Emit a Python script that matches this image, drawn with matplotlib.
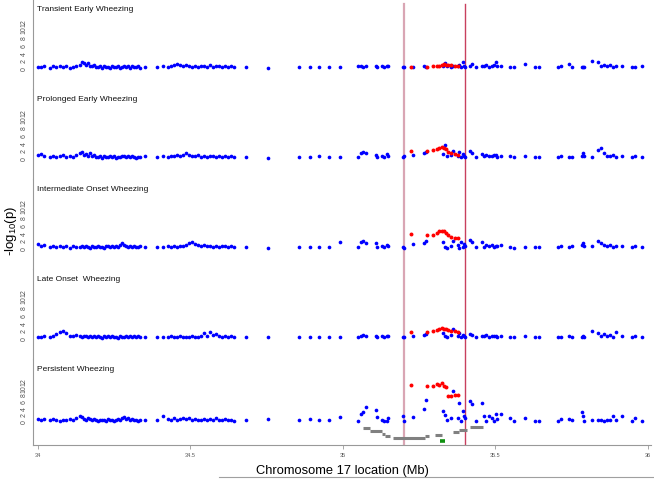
import matplotlib
matplotlib.use('Agg')
import matplotlib.pyplot as plt
from matplotlib.lines import Line2D

plt.rcParams['font.family'] = ['Liberation Sans', 'DejaVu Sans']

titles = ['Transient Early Wheezing', 'Prolonged Early Wheezing',
          'Intermediate Onset Wheezing', 'Late Onset  Wheezing',
          'Persistent Wheezing']

# SNP positions (Mb) outside the associated block
snp_mb = [
    34.001, 34.011, 34.021, 34.040, 34.050, 34.060, 34.073, 34.083, 34.093, 34.106,
    34.116, 34.125, 34.139, 34.145, 34.152, 34.158, 34.165, 34.171, 34.178, 34.184,
    34.191, 34.198, 34.204, 34.211, 34.217, 34.224, 34.230, 34.237, 34.243, 34.250,
    34.257, 34.263, 34.270, 34.276, 34.283, 34.289, 34.296, 34.302, 34.309, 34.316,
    34.322, 34.329, 34.335, 34.352,
    34.391, 34.411, 34.427, 34.437, 34.447, 34.456, 34.466, 34.476, 34.486, 34.496,
    34.505, 34.515, 34.525, 34.535, 34.545, 34.555, 34.564, 34.574, 34.584, 34.594,
    34.604, 34.614, 34.623, 34.633, 34.643,
    34.683, 34.755, 34.856, 34.892, 34.922, 34.954, 34.991,
    35.049, 35.059, 35.066, 35.075, 35.108, 35.111, 35.128, 35.135, 35.144, 35.147,
    35.197, 35.200, 35.230, 35.266, 35.272, 35.328, 35.336, 35.341, 35.354, 35.361,
    35.377, 35.380, 35.386, 35.393, 35.396, 35.399,
    35.416, 35.423, 35.436, 35.456, 35.462, 35.469, 35.478, 35.488, 35.495, 35.501,
    35.505, 35.518, 35.547, 35.561, 35.597, 35.630, 35.643, 35.705, 35.715, 35.742,
    35.751, 35.784, 35.787, 35.790, 35.817, 35.836, 35.846, 35.856, 35.866, 35.876,
    35.886, 35.895, 35.915, 35.948, 35.958, 35.981,
]

transient_p = [
    0.3, 0.2, 0.4, 0.1, 0.5, 0.3, 0.6, 0.2, 0.4, 0.1,
    0.3, 0.5, 0.8, 1.5, 1.2, 0.9, 1.3, 0.6, 0.4, 0.7,
    0.3, 0.2, 0.5, 0.1, 0.4, 0.2, 0.3, 0.1, 0.4, 0.2,
    0.3, 0.5, 0.1, 0.3, 0.6, 0.2, 0.4, 0.1, 0.5, 0.3,
    0.2, 0.4, 0.1, 0.2,
    0.2, 0.4, 0.3, 0.5, 0.7, 1.0, 0.8, 0.6, 0.9, 0.5,
    0.3, 0.6, 0.2, 0.4, 0.5, 0.3, 0.7, 0.2, 0.6, 0.4,
    0.3, 0.5, 0.2, 0.4, 0.3,
    0.3, 0.1, 0.2, 0.3, 0.2, 0.3, 0.2,
    0.4, 0.6, 0.3, 0.5, 0.4, 0.2, 0.5, 0.3, 0.6, 0.4,
    0.2, 0.3, 0.2, 0.4, 0.3, 0.6, 1.3, 0.5, 0.3, 0.6,
    0.4, 0.8, 0.3, 1.6, 0.5, 0.2,
    0.5, 1.0, 0.3, 0.6, 0.4, 0.8, 0.3, 0.5, 0.7, 1.5,
    0.4, 0.6, 0.3, 0.2, 1.0, 0.2, 0.3, 0.2, 0.4, 1.0,
    0.3, 0.2, 0.3, 0.2, 1.8, 1.5, 0.6, 0.9, 0.4, 0.7,
    0.3, 0.5, 0.6, 0.3, 0.2, 0.4,
]

prolonged_p = [
    0.8, 1.0, 0.5, 0.3, 0.6, 0.2, 0.4, 0.7, 0.3, 0.5,
    0.2, 0.8, 1.2, 1.5, 0.9, 1.1, 0.6, 1.3, 0.4, 0.7,
    0.3, 0.2, 0.5, 0.1, 0.4, 0.2, 0.3, 0.5, 0.2, 0.4,
    0.1, 0.3, 0.2, 0.4, 0.6, 0.3, 0.5, 0.2, 0.4, 0.3,
    0.1, 0.3, 0.2, 0.4,
    0.3, 0.5, 0.2, 0.6, 0.4, 0.7, 0.5, 0.9, 1.2, 0.8,
    0.6, 0.4, 0.7, 0.3, 0.5, 0.2, 0.6, 0.4, 0.3, 0.5,
    0.2, 0.4, 0.3, 0.6, 0.2,
    0.2, 0.1, 0.3, 0.2, 0.4, 0.2, 0.3,
    0.3, 1.2, 1.6, 1.3, 0.9, 0.2, 0.6, 0.3, 1.0, 0.4,
    0.3, 0.4, 0.8, 1.2, 1.5, 1.0, 3.3, 0.5, 0.8, 1.8,
    0.4, 1.5, 0.3, 1.0, 0.6, 0.2,
    1.8, 1.2, 0.3, 1.0, 0.4, 0.8, 0.6, 0.5, 0.7, 0.9,
    0.3, 0.6, 0.4, 0.2, 0.5, 0.3, 0.2, 0.3, 0.4, 0.2,
    0.3, 0.5, 1.2, 0.4, 0.3, 2.0, 2.5, 1.2, 0.6, 0.4,
    0.8, 0.3, 0.5, 0.2, 0.4, 0.3,
]

intermediate_p = [
    1.0, 0.6, 0.8, 0.3, 0.5, 0.2, 0.4, 0.3, 0.5, 0.1,
    0.4, 0.2, 0.3, 0.5, 0.2, 0.4, 0.3, 0.1, 0.4, 0.2,
    0.3, 0.5, 0.2, 0.3, 0.1, 0.4, 0.6, 0.3, 0.5, 0.2,
    0.4, 0.3, 0.9, 1.2, 0.8, 0.6, 0.3, 0.5, 0.2, 0.4,
    0.3, 0.2, 0.4, 0.2,
    0.3, 0.2, 0.4, 0.3, 0.5, 0.2, 0.6, 0.4, 0.8, 1.2,
    1.5, 1.0, 0.7, 0.5, 0.9, 0.4, 0.6, 0.3, 0.5, 0.2,
    0.4, 0.6, 0.3, 0.5, 0.2,
    0.2, 0.1, 0.3, 0.2, 0.2, 0.3, 1.5,
    0.3, 1.5, 1.7, 1.3, 1.2, 0.3, 0.6, 0.3, 0.8, 0.6,
    0.3, 0.1, 1.0, 1.3, 1.7, 1.5, 0.3, 0.1, 0.6, 1.7,
    0.8, 0.1, 1.6, 0.3, 1.0, 0.5,
    2.1, 1.5, 0.3, 1.6, 0.3, 0.8, 0.6, 0.8, 0.3, 0.6,
    0.4, 0.8, 0.3, 0.1, 0.3, 0.3, 0.3, 0.2, 0.4, 0.3,
    0.5, 0.8, 1.3, 0.6, 0.4, 1.8, 1.2, 0.7, 0.5, 0.9,
    0.3, 0.6, 0.4, 0.2, 0.5, 0.3,
]

late_p = [
    0.3, 0.2, 0.4, 0.3, 0.5, 1.0, 1.5, 1.8, 1.2, 0.6,
    0.4, 0.7, 0.5, 0.3, 0.6, 0.4, 0.2, 0.5, 0.3, 0.4,
    0.2, 0.6, 0.3, 0.1, 0.4, 0.2, 0.5, 0.3, 0.4, 0.2,
    0.3, 0.1, 0.4, 0.2, 0.3, 0.5, 0.2, 0.4, 0.3, 0.6,
    0.2, 0.4, 0.3, 0.2,
    0.2, 0.3, 0.2, 0.4, 0.3, 0.2, 0.4, 0.3, 0.2, 0.3,
    0.4, 0.2, 0.3, 0.5, 1.2, 0.6, 1.5, 0.8, 1.0, 0.4,
    0.3, 0.5, 0.2, 0.4, 0.3,
    0.2, 0.2, 0.3, 0.2, 0.3, 0.2, 0.3,
    0.3, 0.6, 0.9, 0.5, 0.4, 0.2, 0.6, 0.3, 0.5, 0.4,
    0.3, 0.2, 0.5, 0.8, 1.0, 1.2, 0.6, 0.3, 0.9, 2.3,
    0.5, 1.2, 0.3, 0.8, 0.5, 0.2,
    1.0, 0.8, 0.3, 0.6, 0.4, 0.7, 0.3, 0.5, 0.6, 0.4,
    0.3, 0.5, 0.3, 0.2, 0.4, 0.3, 0.2, 0.3, 0.2, 0.4,
    0.3, 0.2, 0.5, 0.3, 1.8, 1.2, 0.6, 1.0, 0.4, 0.8,
    0.3, 1.5, 0.5, 0.3, 0.4, 0.2,
]

persistent_p = [
    0.5, 0.3, 0.6, 0.2, 0.5, 0.3, 0.1, 0.4, 0.2, 0.6,
    0.3, 0.8, 1.6, 1.2, 0.7, 0.4, 0.9, 0.5, 0.2, 0.6,
    0.3, 0.1, 0.4, 0.2, 0.3, 0.1, 0.5, 0.2, 0.4, 0.1,
    0.3, 0.6, 0.2, 0.8, 1.2, 0.5, 0.9, 0.3, 0.6, 0.2,
    0.4, 0.1, 0.3, 0.2,
    0.3, 1.6, 0.5, 0.2, 0.8, 0.4, 0.6, 1.0, 0.5, 0.9,
    0.3, 0.6, 0.2, 0.4, 0.7, 0.3, 0.5, 0.2, 0.8, 0.4,
    0.3, 0.6, 0.2, 0.4, 0.1,
    0.2, 0.5, 0.3, 0.6, 0.2, 0.4, 1.2,
    0.1, 2.1, 2.7, 4.2, 3.3, 1.2, 0.3, 0.1, 0.1, 0.9,
    1.5, 0.1, 1.2, 3.6, 6.3, 3.1, 1.8, 0.3, 0.9, 9.0,
    0.9, 5.4, 0.1, 3.0, 1.5, 0.9,
    6.0, 5.1, 0.1, 5.4, 1.5, 0.1, 1.5, 0.9, 0.1, 2.1,
    0.6, 2.1, 0.9, 0.1, 0.9, 0.1, 0.1, 0.1, 0.6, 0.6,
    0.3, 2.7, 1.5, 0.1, 0.3, 0.2, 0.3, 0.1, 0.2, 0.3,
    1.5, 0.3, 1.5, 0.1, 0.9, 0.1,
]

# SNPs inside the associated block (red)
hit_mb = [35.222, 35.275, 35.295, 35.307, 35.315, 35.324,
          35.330, 35.338, 35.346, 35.356, 35.366, 35.378]
transient_hit = [0.3, 0.3, 0.4, 0.5, 0.6, 0.9, 1.0, 0.9, 0.7, 0.8, 0.6, 0.4]
prolonged_hit = [1.8, 1.7, 2.0, 2.4, 2.6, 2.8, 2.5, 2.3, 1.6, 1.3, 1.0, 0.9]
intermediate_hit = [3.6, 3.4, 3.3, 4.0, 4.3, 4.4, 4.3, 4.0, 3.4, 2.9, 2.7, 2.6]
late_hit = [1.5, 1.6, 1.8, 2.2, 2.4, 2.6, 2.4, 2.3, 2.1, 1.8, 1.7, 1.5]
persistent_hit = [10.8, 10.5, 10.5, 11.0, 10.8, 11.3, 10.6, 10.2, 7.6, 7.6, 7.7, 7.9]

# gene track under the last panel
gene_start = [35.066, 35.089, 35.127, 35.137, 35.166, 35.269, 35.302, 35.361, 35.381, 35.416]
gene_end = [35.089, 35.127, 35.137, 35.153, 35.269, 35.282, 35.325, 35.381, 35.406, 35.458]
gene_level = [-2.25, -3.15, -3.9, -4.5, -5.1, -4.5, -4.2, -3.3, -2.7, -1.8]
green_start, green_end, green_level = 35.319, 35.335, -6.0

boundary_mb = [35.2, 35.4]

all_p = [transient_p, prolonged_p, intermediate_p, late_p, persistent_p]
all_hit = [transient_hit, prolonged_hit, intermediate_hit, late_hit, persistent_hit]

fig = plt.figure(figsize=(6.54, 4.81), dpi=100)
gs = fig.add_gridspec(5, 1, height_ratios=[90, 90, 90, 90, 86], hspace=0,
                      left=0.0512, right=0.9954, top=1.0, bottom=0.0728)

axes = []
for i in range(5):
    ax = fig.add_subplot(gs[i], sharex=axes[0] if axes else None)
    axes.append(ax)
    ax.scatter(snp_mb, all_p[i], s=7, color='#0000ff', linewidths=0, zorder=3)
    ax.scatter(hit_mb, all_hit[i], s=8, color='#ff0000', linewidths=0, zorder=3)
    if i < 4:
        ax.set_ylim(-5.45, 17.9)
    else:
        ax.set_ylim(-7.2, 18.6)
    ax.set_yticks([0, 2, 4, 6, 8, 10, 12])
    ax.set_yticklabels(['0', '2', '4', '6', '8', '10', '12'], rotation=90,
                       va='center', fontsize=5, color='#555555')
    ax.tick_params(axis='y', length=0, pad=4)
    for s in ['top', 'right', 'bottom']:
        ax.spines[s].set_visible(False)
    ax.spines['left'].set_color('#999999')
    ax.spines['left'].set_linewidth(0.8)
    ax.text(0.0057, 1 - 10 / 90, titles[i], transform=ax.transAxes,
            fontsize=6, va='center', ha='left', color='#111111')
    top = 0.944 if i == 0 else 1.0
    ax.axvline(boundary_mb[0], ymin=0, ymax=top, color='#d9a6b4', lw=1.6, zorder=1)
    ax.axvline(boundary_mb[1], ymin=0, ymax=top, color='#c8405e', lw=1.0, zorder=1)
    if i < 4:
        ax.tick_params(axis='x', bottom=False, labelbottom=False)

ax = axes[4]
for a, b, lv in zip(gene_start, gene_end, gene_level):
    ax.plot([a, b], [lv, lv], color='#808080', lw=2.2, solid_capstyle='butt', zorder=2)
ax.plot([green_start, green_end], [green_level, green_level], color='#109010',
        lw=2.6, solid_capstyle='butt', zorder=2)
ax.spines['bottom'].set_visible(True)
ax.spines['bottom'].set_color('#999999')
ax.spines['bottom'].set_linewidth(0.8)
ax.set_xlim(33.986, 36.01)
ax.set_xticks([34, 34.5, 35, 35.5, 36])
ax.set_xticklabels(['34', '34.5', '35', '35.5', '36'], fontsize=4, color='#555555')
ax.tick_params(axis='x', length=3, width=0.6, color='#999999', pad=2)
ax.set_xlabel('Chromosome 17 location (Mb)', fontsize=9.3, labelpad=5)

fig.text(0.017, 0.52, r'-log$_{\mathregular{10}}$(p)', rotation=90, fontsize=9.5,
         va='center', ha='center')

fig.add_artist(Line2D([0.335, 1.0], [0.006, 0.006], transform=fig.transFigure,
                      color='#a0a0a0', lw=0.8))

fig.savefig('out.png', dpi=100)
